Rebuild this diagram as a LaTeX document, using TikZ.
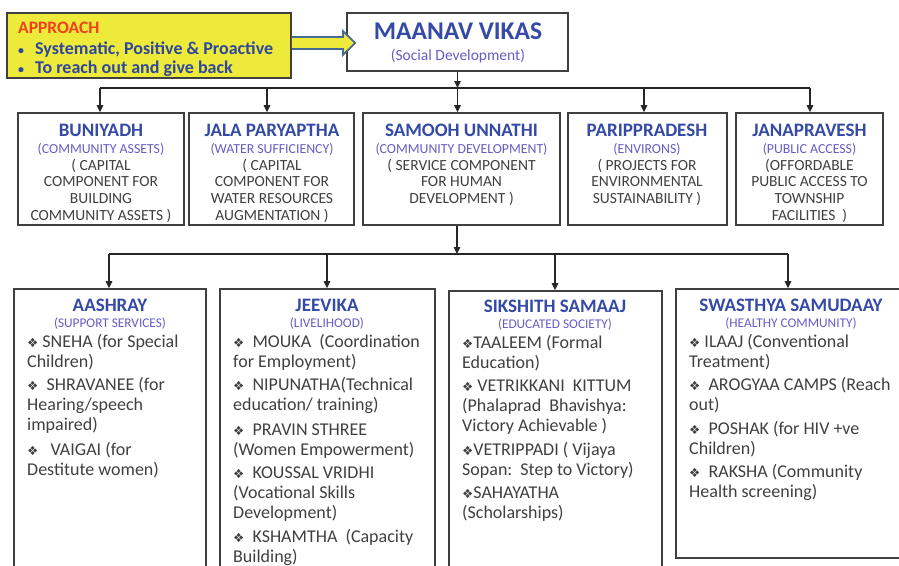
\documentclass[tikz,border=0pt]{standalone}
\usepackage{fontspec}
\setmainfont{Carlito}
\newfontfamily\symfont{DejaVu Sans}
\usetikzlibrary{arrows.meta,calc}
\definecolor{ttl}{RGB}{52,74,166}
\definecolor{subc}{RGB}{100,94,198}
\definecolor{bodyc}{RGB}{64,64,64}
\definecolor{boxline}{RGB}{64,64,64}
\definecolor{apyel}{RGB}{238,234,58}
\definecolor{apred}{RGB}{240,64,30}
\definecolor{apblue}{RGB}{46,70,158}
\definecolor{arrline}{RGB}{72,106,150}
\newcommand{\dia}{{\symfont\fontsize{12.5}{12}\selectfont ❖}}
\newcommand{\lft}[1]{\vtop{\halign{##\hfil\cr#1\crcr}}}
\newcommand{\ctr}[1]{\vtop{\halign{\hfil##\hfil\cr#1\crcr}}}
\newcommand{\gap}[1]{\noalign{\vskip#1}}
\begin{document}
\begin{tikzpicture}[x=1pt,y=-1pt,
  box/.style={draw=boxline,line width=1.6pt,inner sep=0pt,fill=white},
  arr/.style={draw=black!85,line width=1.3pt,-{Triangle[length=7pt,width=6.5pt]}},
  bus/.style={draw=black!85,line width=1.3pt},
  ttlA/.style={anchor=base,inner sep=0pt,text=ttl,font=\fontsize{19}{20}\selectfont\bfseries},
  subA/.style={anchor=base,inner sep=0pt,text=subc,font=\fontsize{13.8}{14}\selectfont},
  subB/.style={anchor=base,inner sep=0pt,text=subc,font=\fontsize{13.3}{14}\selectfont},
  bodyB/.style={anchor=base,inner sep=0pt,text=bodyc,font=\fontsize{15.5}{16.8}\selectfont},
  bodyL/.style={anchor=base west,inner sep=0pt,text=bodyc,font=\fontsize{18}{20}\selectfont},
  hollow/.style={draw=arrline,line width=1.8pt,fill=apyel,line join=miter}
]
\useasboundingbox (0,0) rectangle (899,565);
\clip (0,0) rectangle (899,565);

% approach box and hollow arrow
\node[box,fill=apyel,line width=1.8pt,minimum width=284pt,minimum height=65pt] (ap) at (149,45.5) {};
\node[box,minimum width=221pt,minimum height=58pt] (m) at (457.5,42) {};
\draw[hollow] ($(ap.east)+(0,-8.5)$) -- ($(ap.east)+(51,-8.5)$) -- ($(ap.east)+(51,-14.5)$)
  -- ($(m.west)+(9,1)$) -- ($(ap.east)+(51,9.5)$) -- ($(ap.east)+(51,3.5)$) -- ($(ap.east)+(0,3.5)$);
\node[anchor=base west,inner sep=0pt,text=apred,font=\fontsize{17.5}{20}\selectfont\bfseries] (apt) at (18,33) {APPROACH};
\node[anchor=base west,inner sep=0pt,text=apblue,font=\fontsize{18}{20}\selectfont\bfseries] (apb1) at (18,54) {{\fontsize{12}{12}\selectfont•}\hspace{11pt}Systematic, Positive \& Proactive};
\node[anchor=base west,inner sep=0pt,text=apblue,font=\fontsize{18}{20}\selectfont\bfseries] (apb2) at (18,73) {{\fontsize{12}{12}\selectfont•}\hspace{11pt}To reach out and give back};

\node[anchor=base,inner sep=0pt,text=ttl,font=\fontsize{25.5}{26}\selectfont\bfseries] (mt) at (458,39) {MAANAV VIKAS};
\node[anchor=base,inner sep=0pt,text=subc,font=\fontsize{15.5}{17}\selectfont] (ms) at (458,60) {(Social Development)};

% level 2 boxes
\node[box,minimum width=166pt,minimum height=112pt] (bun) at (101,169) {};
\node[box,minimum width=165pt,minimum height=112pt] (jal) at (271.5,169) {};
\node[box,minimum width=197pt,minimum height=112pt] (sam) at (461.5,169) {};
\node[box,minimum width=159pt,minimum height=112pt] (par) at (647.5,169) {};
\node[box,minimum width=147pt,minimum height=112pt] (jan) at (809.5,169) {};

\node[ttlA] (bunt) at (101,136) {BUNIYADH};
\node[subA] (buns) at (101,153) {(COMMUNITY ASSETS)};
\node[bodyB] (bunb) at (101,170) {\ctr{( CAPITAL\cr COMPONENT FOR\cr BUILDING\cr COMMUNITY ASSETS )}};

\node[ttlA] (jalt) at (272,136) {JALA PARYAPTHA};
\node[subA] (jals) at (272,153) {(WATER SUFFICIENCY)};
\node[bodyB] (jalb) at (272,170) {\ctr{( CAPITAL\cr COMPONENT FOR\cr WATER RESOURCES\cr AUGMENTATION )}};

\node[ttlA] (samt) at (461.5,136) {SAMOOH UNNATHI};
\node[subA] (sams) at (461.5,153) {(COMMUNITY DEVELOPMENT)};
\node[bodyB] (samb) at (461.5,170) {\ctr{( SERVICE COMPONENT\cr FOR HUMAN\cr DEVELOPMENT )}};

\node[ttlA] (part) at (647,136) {PARIPPRADESH};
\node[subA] (pars) at (647,153) {(ENVIRONS)};
\node[bodyB] (parb) at (647,170) {\ctr{( PROJECTS FOR\cr ENVIRONMENTAL\cr SUSTAINABILITY )}};

\node[ttlA] (jant) at (809.5,136) {JANAPRAVESH};
\node[subA] (jans) at (809.5,153) {(PUBLIC ACCESS)};
\node[bodyB] (janb) at (809.5,170) {\ctr{(OFFORDABLE\cr PUBLIC ACCESS TO\cr TOWNSHIP\cr FACILITIES\ \ )}};

% connectors level 1 -> 2
\coordinate (k1) at (100,88);
\coordinate (k2) at (267,88);
\coordinate (k3) at (457.5,88);
\coordinate (k4) at (644,88);
\coordinate (k5) at (810,88);
\draw[arr] (m.south) -- (m.south |- k3);
\draw[bus] (k1) -- (k5);
\draw[arr] (k1) -- (k1 |- bun.north);
\draw[arr] (k2) -- (k2 |- jal.north);
\draw[arr] (k3) -- (k3 |- sam.north);
\draw[arr] (k4) -- (k4 |- par.north);
\draw[arr] (k5) -- (k5 |- jan.north);

% level 3 boxes
\node[box,minimum width=192pt,minimum height=291pt] (aas) at (110,434.5) {};
\node[box,minimum width=215pt,minimum height=291pt] (jee) at (327.5,434.5) {};
\node[box,minimum width=213pt,minimum height=289pt] (sik) at (555.5,435.5) {};
\node[box,minimum width=234pt,minimum height=269pt] (swa) at (793,423.5) {};

% connectors level 2 -> 3
\coordinate (q0) at (457,254);
\coordinate (q1) at (109,254);
\coordinate (q2) at (327,254);
\coordinate (q3) at (555,254);
\coordinate (q4) at (788,254);
\draw[arr] (q0 |- sam.south) -- (q0);
\draw[bus] (q1) -- (q4);
\draw[arr] (q1) -- (q1 |- aas.north);
\draw[arr] (q2) -- (q2 |- jee.north);
\draw[arr] (q3) -- (q3 |- sik.north);
\draw[arr] (q4) -- (q4 |- swa.north);

% level 3 texts
\node[ttlA] (aast) at (110,311) {AASHRAY};
\node[subB] (aass) at (110,327) {(SUPPORT SERVICES)};
\node[bodyL] (aasb) at (27,347) {\lft{\dia\ SNEHA (for Special\cr Children)\cr\gap{3.5pt}
\dia\ \ SHRAVANEE (for\cr Hearing/speech\cr impaired)\cr\gap{4.5pt}
\dia\ \ \ VAIGAI (for\cr Destitute women)}};

\node[ttlA] (jeet) at (327,311) {JEEVIKA};
\node[subB] (jees) at (327,327) {(LIVELIHOOD)};
\node[bodyL] (jeeb) at (233,347) {\lft{\dia\ \ MOUKA\ \ (Coordination\cr for Employment)\cr\gap{3.8pt}
\dia\ \ NIPUNATHA(Technical\cr education/ training)\cr\gap{4.2pt}
\dia\ \ PRAVIN STHREE\cr (Women Empowerment)\cr\gap{3pt}
\dia\ \ KOUSSAL VRIDHI\cr (Vocational Skills\cr Development)\cr\gap{4.5pt}
\dia\ \ KSHAMTHA\ \ (Capacity\cr Building)}};

\node[ttlA] (sikt) at (555,312) {SIKSHITH SAMAAJ};
\node[subB] (siks) at (555,328) {(EDUCATED SOCIETY)};
\node[bodyL] (sikb) at (462,348) {\lft{\dia TAALEEM (Formal\cr Education)\cr\gap{3.8pt}
\dia\ VETRIKKANI\ \ KITTUM\cr (Phalaprad\ \ Bhavishya:\cr Victory Achievable )\cr\gap{3.8pt}
\dia VETRIPPADI ( Vijaya\cr Sopan:\ \ Step to Victory)\cr\gap{3.2pt}
\dia SAHAYATHA\cr (Scholarships)}};

\node[ttlA] (swat) at (791,311) {SWASTHYA SAMUDAAY};
\node[subB] (swas) at (791,327) {(HEALTHY COMMUNITY)};
\node[bodyL] (swab) at (689,347) {\lft{\dia\ ILAAJ (Conventional\cr Treatment)\cr\gap{3.5pt}
\dia\ \ AROGYAA CAMPS (Reach\cr out)\cr\gap{3.5pt}
\dia\ \ POSHAK (for HIV +ve\cr Children)\cr\gap{3.5pt}
\dia\ \ RAKSHA (Community\cr Health screening)}};
\end{tikzpicture}
\end{document}
